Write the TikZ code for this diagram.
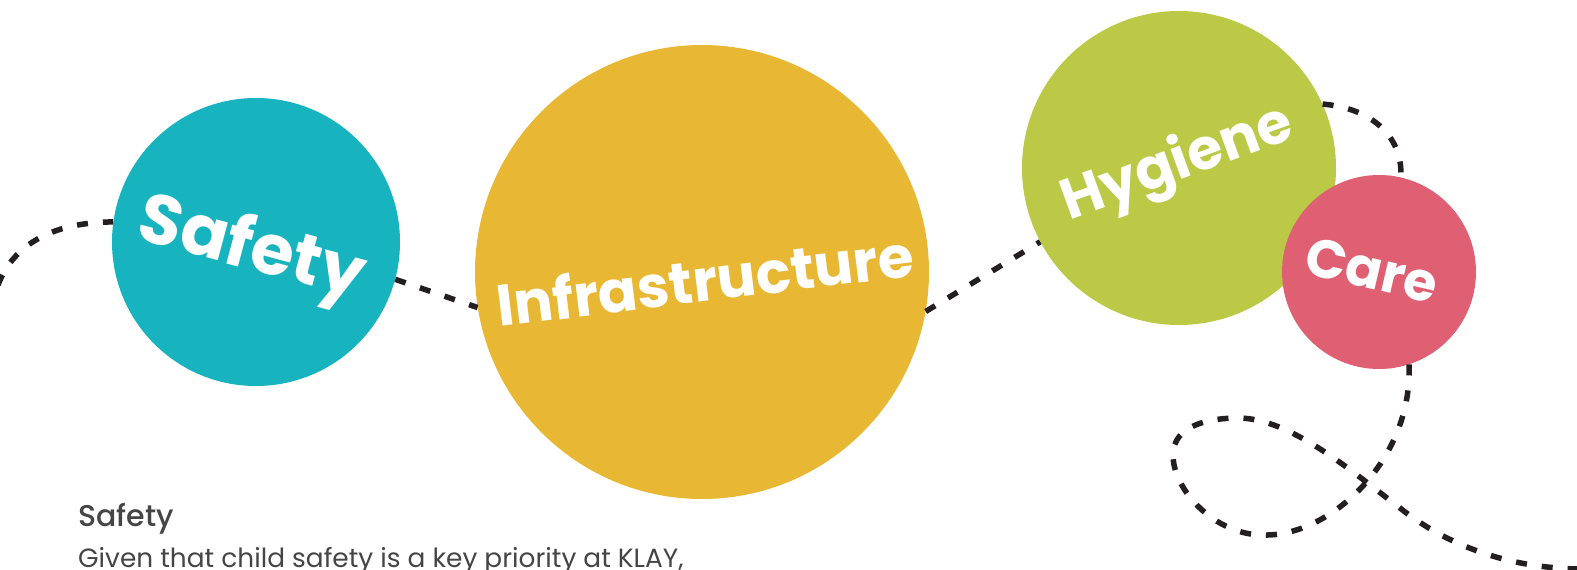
\documentclass[tikz,border=0pt]{standalone}
\usepackage{fontspec}
\usepackage{tikz}
\newfontfamily\tagfont{Poppins}
\newfontfamily\headfont{Poppins Medium}
\usetikzlibrary{positioning,calc}
\definecolor{teal1}{HTML}{17B3BE}
\definecolor{gold1}{HTML}{E8B834}
\definecolor{lime1}{HTML}{BCC947}
\definecolor{rose1}{HTML}{DF6073}
\definecolor{ink1}{HTML}{231F20}
\definecolor{grey1}{HTML}{454545}

\begin{document}
\begin{tikzpicture}[x=1pt,y=-1pt,every node/.style={inner sep=0pt},
  blob/.style={circle,minimum size=#1},
  tag/.style={text=white,font=\tagfont\bfseries\fontsize{#1}{#1}\selectfont},
  trail/.style={draw=ink1,line width=5.5pt,dash pattern=on 11pt off 15pt}]
\useasboundingbox (0,0) rectangle (1577,570);
\node[blob=288pt,fill=teal1] (c1) at (256,242) {};
\node[blob=454pt,fill=gold1] (c2) at (702,272) {};
\node[blob=314pt,fill=lime1] (c3) at (1179,168) {};
\node[blob=194pt,fill=rose1] (c4) at (1379,272) {};
\node[tag=70,rotate=-15] (t1) at (251,251) {Safety};
\node[tag=58,rotate=7] (t2) at (705,279) {Infrastructure};
\node[tag=57,rotate=20] (t3) at (1178,165) {Hygiene};
\node[tag=54,rotate=-13] (t4) at (1372,270) {Care};
\coordinate (p0) at (-2,285);
\coordinate (p1) at (1263,535);
\coordinate (p2) at (1173,455);
\coordinate (p3) at (1238,418);
\coordinate (p4) at (1400,508);
\coordinate (p5) at (1580,569);
\draw[trail] (p0) .. controls (15,240) and (60,222) .. (c1.172);
\draw[trail] (c1.-15) -- (c2.189);
\draw[trail] (c2.-10) -- (c3.208);
\draw[trail] (c3.24) .. controls (1370,108) and (1403,135) .. (c4.77);
\draw[trail] (c4.-72) .. controls (1413,460) and (1330,537) .. (p1)
  .. controls (1215,535) and (1173,490) .. (p2)
  .. controls (1173,425) and (1210,418) .. (p3)
  .. controls (1290,418) and (1350,470) .. (p4)
  .. controls (1440,540) and (1500,568) .. (p5);
%\draw[trail] (c3) -- (c4);
\node[anchor=base west,text=grey1,font=\headfont\fontsize{30}{30}\selectfont] (h1) at (78,526) {Safety};
\node[anchor=base west,text=grey1,font=\tagfont\fontsize{26.4}{26.4}\selectfont] (h2) at (78,567) {Given that child safety is a key priority at KLAY,};
\end{tikzpicture}
\end{document}
